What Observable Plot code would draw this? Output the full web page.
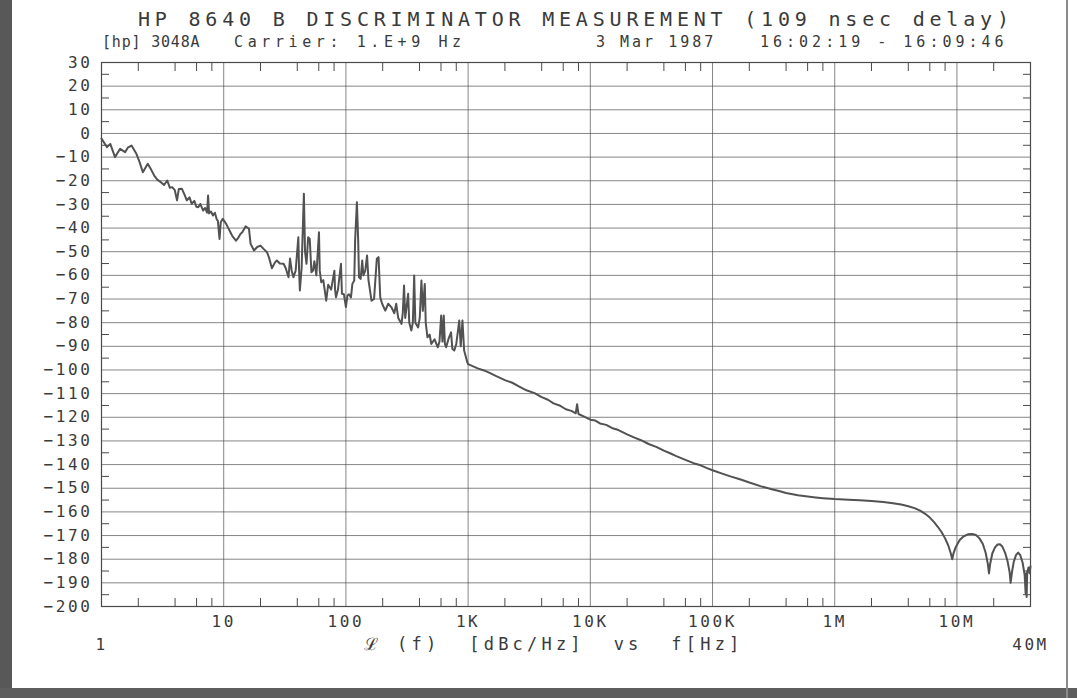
<!DOCTYPE html>
<html><head><meta charset="utf-8">
<script src="https://cdn.jsdelivr.net/npm/d3@7"></script>
<script src="https://cdn.jsdelivr.net/npm/@observablehq/plot@0.6"></script>
<style>
html,body{margin:0;padding:0;background:#fff;overflow:hidden;width:1077px;height:698px;}
#wrap{position:relative;width:1077px;height:698px;background:#fff;overflow:hidden;}
.t{position:absolute;font-family:"DejaVu Sans Mono",monospace;color:#3a3a3a;white-space:pre;line-height:1;}
#title{left:138px;top:9px;font-size:20px;letter-spacing:4.8px;}
.sub{top:35px;font-size:15px;letter-spacing:3px;}
#lbar{position:absolute;left:0;top:0;width:12px;height:698px;background:#585858;}
#bbar{position:absolute;left:0;top:688px;width:1077px;height:10px;background:#5e5e5e;}
#rline{position:absolute;left:1066px;top:0;width:2px;height:698px;background:#8a8a8a;}
#chart{position:absolute;left:0;top:0;}
#chart svg{overflow:hidden;}
#chart svg text{letter-spacing:2.6px;}
#chart svg .atitle text{letter-spacing:4.2px;}
</style></head>
<body><div id="wrap">
<div id="chart"></div>
<div id="title" class="t">HP 8640 B DISCRIMINATOR MEASUREMENT (109 nsec delay)</div>
<div class="t sub" style="left:102px;letter-spacing:0.8px">[hp] 3048A</div>
<div class="t sub" style="left:234px;letter-spacing:4.6px">Carrier: 1.E+9 Hz</div>
<div class="t sub" style="left:596px">3 Mar 1987</div>
<div class="t sub" style="left:760px;letter-spacing:4px">16:02:19 - 16:09:46</div>
<div id="lbar"></div><div id="bbar"></div><div id="rline"></div>
</div>
<script>
// Offset frequency [Hz]
const freq = [
1.0,1.11,1.18,1.29,1.42,1.56,1.64,1.76,1.93,2.05,2.18,2.39,2.56,2.70,2.86,3.06,3.25,3.45,3.63,3.79,3.98,4.15,4.29,4.55,4.79,4.99,5.25,5.47,5.75,5.97,6.19,6.43,6.79,7.05,7.31,7.45,7.59,7.87,8.17,8.47,8.79,8.95,9.24,9.46,9.82,
10.4,10.8,11.4,11.8,12.6,13.2,13.7,14.2,15.1,16.1,16.6,17.7,18.8,20.0,21.4,22.6,23.5,24.8,26.3,27.2,28.8,30.9,32.2,33.9,34.9,36.0,37.2,38.8,40.8,41.4,42.0,43.4,45.3,46.3,47.6,49.1,50.6,52.2,53.8,55.2,57.3,60.2,61.1,62.8,65.3,69.0,71.6,75.7,80.5,81.5,83.0,86.1,91.1,92.8,96.3,
100,103,106,110,113,117,119,123,126,128,132,136,139,144,149,153,162,170,179,185,191,198,210,222,235,249,258,268,285,292,299,306,323,330,343,353,362,370,390,402,415,426,442,450,465,484,500,531,565,583,602,617,632,646,661,690,725,743,771,800,846,870,899,928,986,
1000,1100,1200,1350,1500,1700,2000,2300,2600,3000,3500,4000,4500,5000,5600,6300,7000,7600,7800,8000,9000,
10000,11000,12000,13500,15000,17000,20000,23000,26000,30000,35000,40000,45000,50000,60000,70000,80000,90000,
100000,120000,140000,170000,200000,250000,300000,350000,400000,500000,600000,700000,800000,
1e6,1.3e6,1.6e6,2e6,2.5e6,3e6,3.5e6,4e6,4.5e6,5e6,5.5e6,6e6,6.5e6,7e6,7.5e6,8e6,8.5e6,8.9e6,9.15e6,9.4e6,9.8e6,
10.5e6,11.3e6,12.3e6,13.3e6,14.3e6,15.3e6,16.3e6,17.2e6,17.9e6,18.3e6,18.7e6,19.5e6,20.5e6,21.5e6,22.5e6,23.5e6,24.8e6,26e6,27e6,27.5e6,28.2e6,29.2e6,30.5e6,31.7e6,33e6,34.5e6,35.8e6,36.5e6,36.8e6,37.2e6,37.6e6,38.5e6,39.3e6,40e6
];
// Single-sideband phase noise L(f) [dBc/Hz]
const level = [
-2.2,-5.8,-4.4,-10,-6.5,-7.9,-6.0,-5.1,-8.6,-12.1,-16.4,-12.8,-15.5,-17.8,-19.5,-20.6,-21.8,-19.9,-23,-22.7,-24,-28.3,-23.5,-23.4,-26,-28.3,-27,-29.7,-28.5,-31,-31.2,-29.8,-32.6,-31.5,-33.5,-26.2,-33.8,-33,-34.7,-33.5,-36.5,-36.8,-44.6,-37.5,-36.1,
-38,-39.6,-42,-43.5,-45.3,-44,-42.5,-41.8,-39.3,-40.3,-46.7,-49.5,-48,-47.4,-49,-50.2,-52.5,-57,-54.5,-53.7,-55,-55.1,-57,-60.8,-52.9,-58,-60.8,-58,-43.9,-58,-66.4,-57,-25.5,-50,-55.1,-43.9,-44.6,-58.7,-58,-54,-60,-41.8,-58,-62.9,-62,-70.7,-64,-66,-58,-66,-69.3,-66,-55.1,-67.8,-68,
-73.4,-68.5,-68,-69.3,-63.6,-62.2,-45,-29.1,-45,-60.8,-61.5,-53.7,-60,-58,-51.6,-62,-70.7,-70,-53,-52.3,-69.3,-72,-74.9,-72,-73.4,-76,-72,-78,-80.5,-76,-64.3,-78,-67.8,-80,-83.3,-80,-60.1,-80,-82,-78,-62.2,-75,-63.6,-80,-86.2,-85,-89,-87,-90.4,-88,-77,-88,-77,-89,-90.4,-87,-84.1,-91,-91.8,-89,-79.1,-90,-79.1,-91.8,-96.8,
-97.5,-98.5,-99.3,-100.2,-101.2,-102.6,-104.3,-105.4,-106.9,-108.6,-109.8,-111.5,-112.6,-114.1,-115.0,-116.6,-117.3,-118.3,-114.5,-118.6,-119.8,
-121.0,-121.4,-122.6,-123.2,-124.5,-125.4,-127.2,-128.6,-129.7,-131.3,-132.6,-134.1,-135.2,-136.3,-138.0,-139.4,-140.3,-141.5,
-142.4,-143.8,-145.0,-146.3,-147.6,-149.2,-150.3,-151.2,-152.0,-153.0,-153.5,-153.9,-154.2,
-154.6,-154.9,-155.1,-155.4,-155.8,-156.3,-156.9,-157.6,-158.4,-159.5,-160.8,-162.4,-164.3,-166.4,-168.6,-171.2,-174.2,-177.5,-180.0,-177.3,-174.8,
-172.0,-170.4,-169.5,-169.3,-169.8,-171.2,-173.6,-177.4,-182.0,-186.0,-182.0,-177.5,-175.0,-173.8,-173.7,-174.6,-177.3,-181.0,-185.5,-190.0,-185.5,-181.0,-178.2,-177.2,-178.3,-181.5,-186.5,-194.5,-186,-196,-185.5,-183.5,-186,-183
];
// Axis ticks and labels
const yTicks = [30,20,10,0,-10,-20,-30,-40,-50,-60,-70,-80,-90,-100,-110,-120,-130,-140,-150,-160,-170,-180,-190,-200];
const yTickLabels = ["30","20","10","0","−10","−20","−30","−40","−50","−60","−70","−80","−90","−100","−110","−120","−130","−140","−150","−160","−170","−180","−190","−200"];
const yMinor = [25,15,5,-5,-15,-25,-35,-45,-55,-65,-75,-85,-95,-105,-115,-125,-135,-145,-155,-165,-175,-185,-195];
const xTicks = [10,100,1e3,1e4,1e5,1e6,1e7];
const xTickLabels = ["10","100","1K","10K","100K","1M","10M"];
const xMinor = [2,4,6,8,20,40,60,80,200,400,600,800,2e3,4e3,6e3,8e3,2e4,4e4,6e4,8e4,2e5,4e5,6e5,8e5,2e6,4e6,6e6,8e6,2e7];
const xEnds = [1,4e7];
const xEndLabels = ["1","40M"];
const axisTitle = "ℒ (f)  [dBc/Hz]  vs  f[Hz]";

const rows = freq.map((f,i)=>({f, L: level[i]}));
const ends = xEnds.map((f,i)=>({f, t: xEndLabels[i]}));
const ink = "#4a4a4a";

const chart = Plot.plot({
  width:1077, height:698,
  marginLeft:101, marginRight:47, marginTop:62, marginBottom:92,
  x:{type:"log", domain:[1,4e7], label:null},
  y:{domain:[-200,30], label:null},
  style:{fontFamily:"'DejaVu Sans Mono', monospace", fontSize:"16px", color:"#3a3a3a", background:"transparent"},
  marks:[
    Plot.gridY(yTicks.slice(1,-1), {stroke:ink, strokeOpacity:0.75, strokeWidth:0.9}),
    Plot.gridX(xTicks, {stroke:ink, strokeOpacity:0.75, strokeWidth:0.9}),
    Plot.axisY(yMinor, {anchor:"left", tickSize:-8, tickFormat:()=>"", label:null, stroke:ink}),
    Plot.axisY(yMinor, {anchor:"right", tickSize:-8, tickFormat:()=>"", label:null, stroke:ink}),
    Plot.axisX(xMinor, {anchor:"bottom", tickSize:-8, tickFormat:()=>"", label:null, stroke:ink}),
    Plot.axisX(xMinor, {anchor:"top", tickSize:-8, tickFormat:()=>"", label:null, stroke:ink}),
    Plot.axisY(yTicks, {anchor:"left", tickSize:0, tickPadding:9, label:null, tickFormat:d=>yTickLabels[yTicks.indexOf(d)]}),
    Plot.axisX(xTicks, {anchor:"bottom", tickSize:0, tickPadding:9, label:null, tickFormat:d=>xTickLabels[xTicks.indexOf(d)]}),
    Plot.frame({stroke:ink, strokeWidth:1.2}),
    Plot.line(rows, {x:"f", y:"L", stroke:"#525252", strokeWidth:2}),
    Plot.text(ends, {x:"f", text:"t", frameAnchor:"bottom", dy:43}),
    Plot.text([axisTitle], {frameAnchor:"bottom", dy:43, dx:-12, fontSize:17, className:"atitle"})
  ]
});
document.getElementById("chart").appendChild(chart);
</script>
</body></html>
